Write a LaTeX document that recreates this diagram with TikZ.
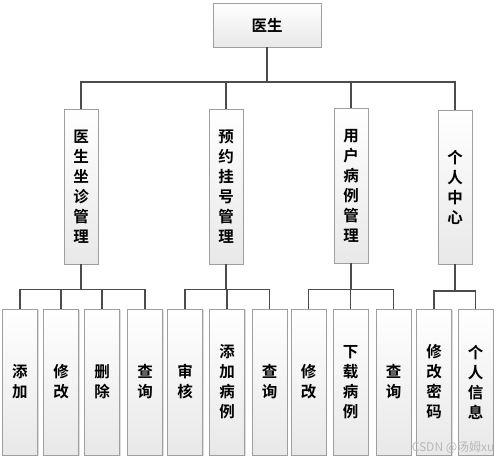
\documentclass[tikz,border=0pt]{standalone}
\usepackage{fontspec}
\newfontfamily\cjk{Noto Sans CJK SC}[BoldFont={Noto Sans CJK SC Bold}]
\usetikzlibrary{shadows}
\begin{document}
\begin{tikzpicture}[x=1pt,y=-1pt,
  box/.style={draw=gray!75, line width=0.9pt, top color=white, bottom color=gray!18,
    drop shadow={shadow xshift=1.2pt, shadow yshift=-1.2pt, fill=gray!45, opacity=0.6},
    inner sep=0pt, font=\cjk\bfseries\fontsize{15.5}{20}\selectfont, align=center},
  conn/.style={draw=black!70, line width=1.2pt}]
\useasboundingbox (0,0) rectangle (499,461);
% top
\node[box, minimum width=108pt, minimum height=44pt] (top) at (267,25) {医生};
% level 2
\node[box, minimum width=34pt, minimum height=155pt] (m1) at (81,186.5) {医\\生\\坐\\诊\\管\\理};
\node[box, minimum width=34pt, minimum height=155pt] (m2) at (226,186.5) {预\\约\\挂\\号\\管\\理};
\node[box, minimum width=34pt, minimum height=155pt] (m3) at (351,185.5) {用\\户\\病\\例\\管\\理};
\node[box, minimum width=34pt, minimum height=154pt] (m4) at (455,187) {个\\人\\中\\心};
% leaves
\foreach \n/\x/\t in {a1/20/{添\\加}, a2/61/{修\\改}, a3/102/{删\\除}, a4/145/{查\\询},
  b1/185/{审\\核}, b2/227/{添\\加\\病\\例}, b3/269.5/{查\\询},
  c1/308.5/{修\\改}, c2/350.5/{下\\载\\病\\例}, c3/393.5/{查\\询},
  d1/434/{修\\改\\密\\码}, d2/475.5/{个\\人\\信\\息}}
  \node[box, minimum width=35pt, minimum height=146pt] (\n) at (\x,382) {\t};
% connectors top -> level 2
\coordinate (bus0) at (267,82);
\draw[conn] (top.south) -- (top.south |- bus0);
\draw[conn] (m1.north) |- (m4.north |- bus0) -- (m4.north);
\draw[conn] (m2.north) -- (m2.north |- bus0);
\draw[conn] (m3.north) -- (m3.north |- bus0);
% level 2 -> leaves
\coordinate (bus1) at (0,289.5);
\draw[conn] (m1.south) -- (m1.south |- bus1);
\draw[conn] (a1.north) |- (a4.north |- bus1) -- (a4.north);
\draw[conn] (a2.north) -- (a2.north |- bus1);
\draw[conn] (a3.north) -- (a3.north |- bus1);
\draw[conn] (m2.south) -- (m2.south |- bus1);
\draw[conn] (b1.north) |- (b3.north |- bus1) -- (b3.north);
\draw[conn] (b2.north) -- (b2.north |- bus1);
\draw[conn] (m3.south) -- (m3.south |- bus1);
\draw[conn] (c1.north) |- (c3.north |- bus1) -- (c3.north);
\draw[conn] (c2.north) -- (c2.north |- bus1);
\coordinate (bus2) at (0,291);
\draw[conn] (m4.south) -- (m4.south |- bus2);
\draw[conn] (d1.north) |- (d2.north |- bus2) -- (d2.north);
% watermark
\node[text=gray!55, font=\cjk\fontsize{12}{14}\selectfont, anchor=east] (wm) at (498,447) {CSDN @汤姆xu};
\end{tikzpicture}
\end{document}
